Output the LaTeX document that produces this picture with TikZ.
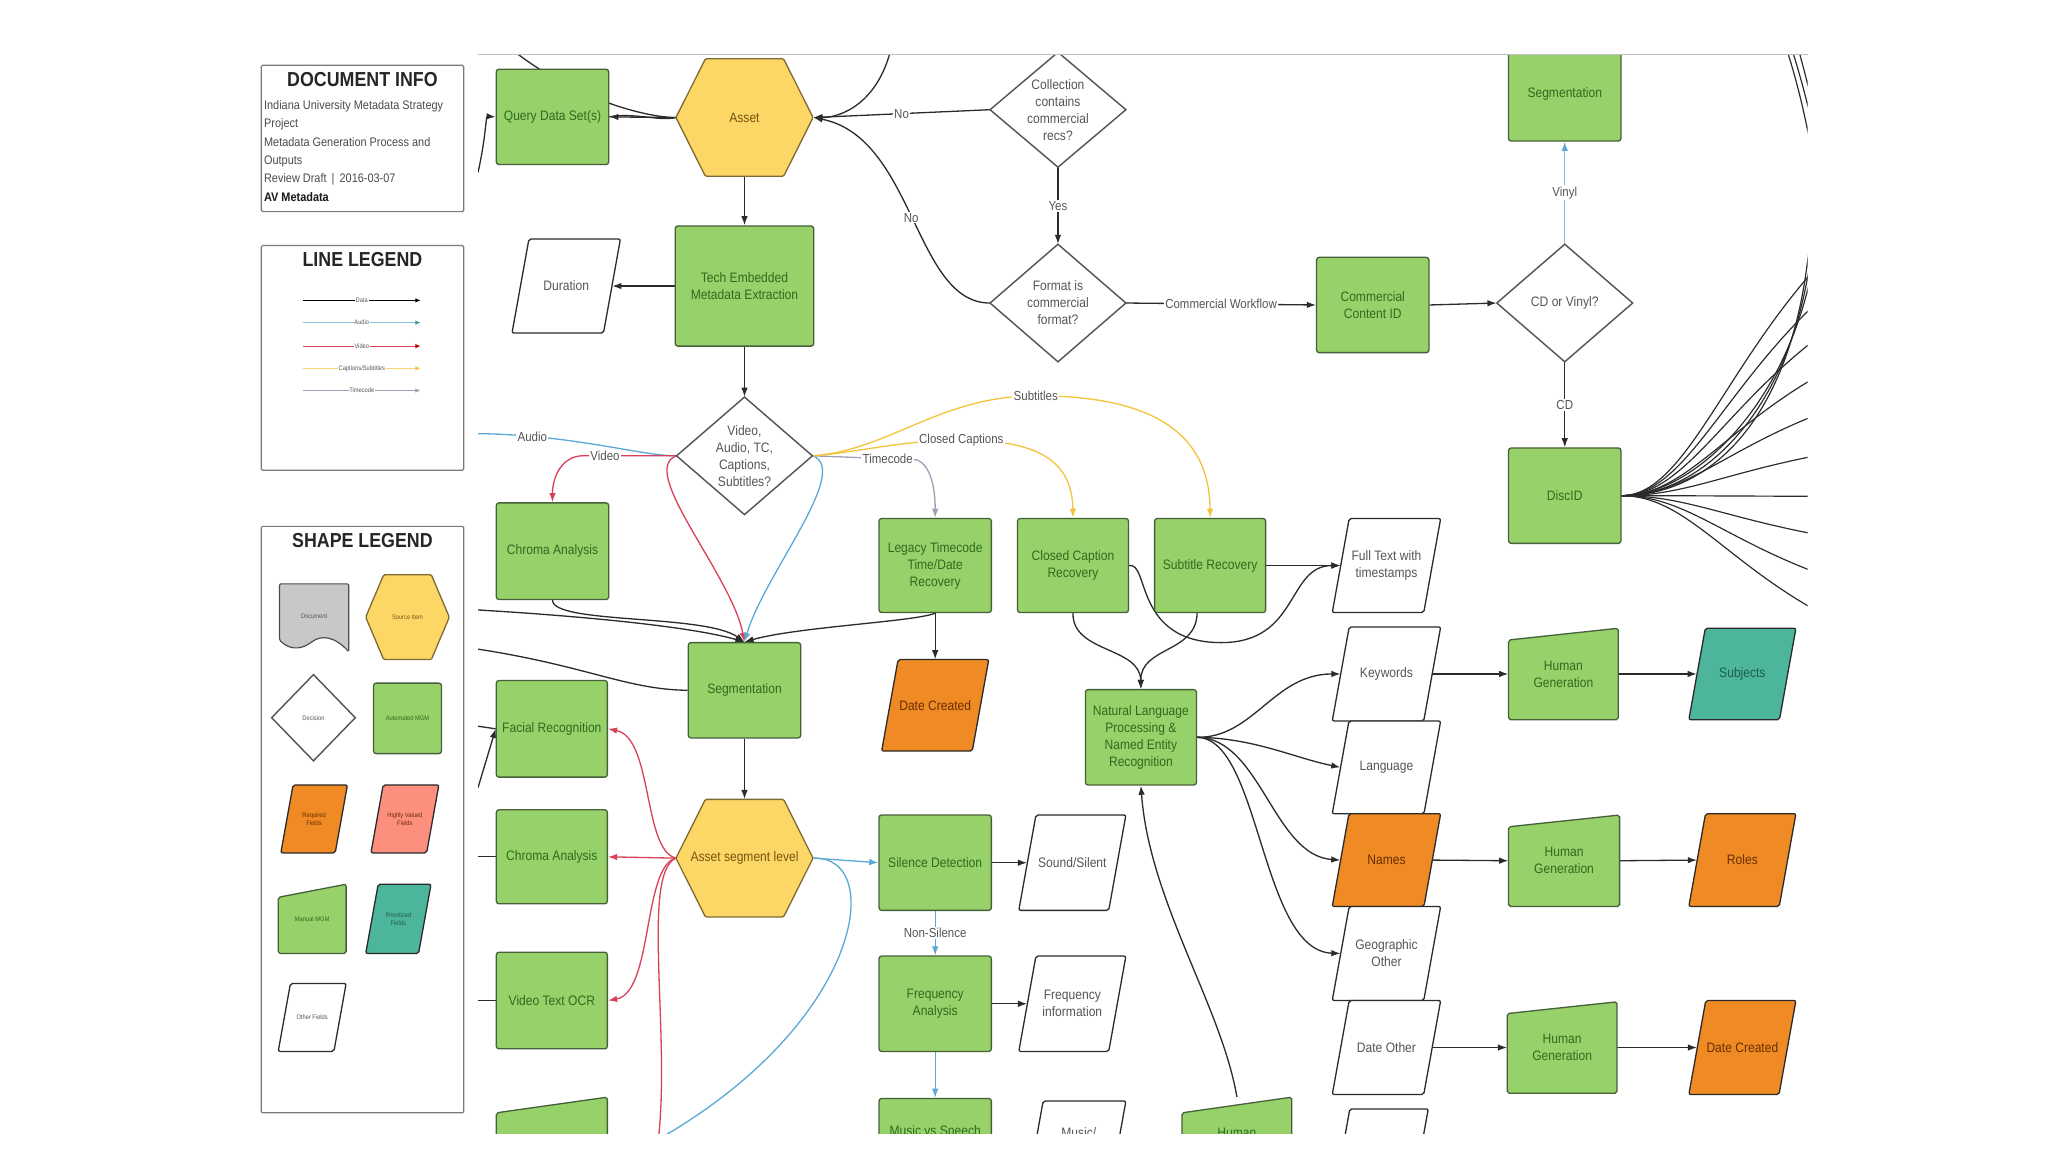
\documentclass[tikz,border=0pt]{standalone}
\usepackage{fontspec}
\setmainfont{Liberation Sans}[FakeStretch=0.88]
\usetikzlibrary{arrows.meta,calc}
\pgfdeclarelayer{bg}
\pgfsetlayers{bg,main}

\definecolor{mgmgreen}{HTML}{97D16A}
\definecolor{mgmborder}{HTML}{46603A}
\definecolor{mgmtext}{HTML}{2E6B1E}
\definecolor{srcyellow}{HTML}{FDD766}
\definecolor{srcborder}{HTML}{7E6A34}
\definecolor{srctext}{HTML}{74560F}
\definecolor{reqorange}{HTML}{EF8A24}
\definecolor{reqtext}{HTML}{6A2E00}
\definecolor{hvsalmon}{HTML}{FC8F7E}
\definecolor{priteal}{HTML}{4CB59C}
\definecolor{pritext}{HTML}{1F5D52}
\definecolor{docgrey}{HTML}{C8C8C8}
\definecolor{linegrey}{HTML}{2B2B2B}
\definecolor{audioblue}{HTML}{5AA9D6}
\definecolor{vinylblue}{HTML}{8FB8D0}
\definecolor{videored}{HTML}{D9415A}
\definecolor{capyellow}{HTML}{F3C33C}
\definecolor{tcgrey}{HTML}{A0A0B4}
\definecolor{lbltext}{HTML}{555555}
\definecolor{panelgrey}{HTML}{7A7A7A}

\newcommand\boxfont{\fontsize{10.5}{13}\selectfont}
\newcommand\legfont{\fontsize{5}{6}\selectfont}

\tikzset{
  gbox/.style={rectangle, rounded corners=2pt, draw=mgmborder, line width=1pt, fill=mgmgreen,
    text=mgmtext, align=center, minimum width=86pt, minimum height=73pt, inner sep=1pt, font=\boxfont},
  hexdraw/.style={fill=srcyellow, draw=srcborder, line width=1pt, rounded corners=1pt},
  hexnode/.style={rectangle, draw=none, fill=none, text=srctext, align=center, inner sep=0pt, font=\boxfont},
  decdraw/.style={fill=white, draw=lbltext, line width=1.1pt},
  decnode/.style={rectangle, draw=none, fill=none, inner sep=0pt, text=lbltext, align=center, font=\boxfont},
  paradraw/.style={draw=linegrey, line width=1pt, rounded corners=1.5pt},
  paranode/.style={rectangle, inner sep=0pt, align=center, font=\boxfont},
  otherf/.style={fill=white, text=lbltext},
  reqf/.style={fill=reqorange, text=reqtext},
  hvf/.style={fill=hvsalmon, text=reqtext},
  prif/.style={fill=priteal, text=pritext},
  mandraw/.style={fill=mgmgreen, draw=mgmborder, line width=1pt, rounded corners=1.5pt},
  mannode/.style={rectangle, draw=none, fill=none, inner sep=0pt, text=mgmtext, align=center, font=\boxfont},
  legtext/.style={font=\legfont},
  panel/.style={draw=panelgrey, line width=0.9pt, rounded corners=1pt},
  ptitle/.style={font=\bfseries\fontsize{15.5}{17}\selectfont, text=black!85},
  infotext/.style={anchor=base west, inner sep=0pt, font=\fontsize{9.5}{11}\selectfont, text=black!70},
  dataline/.style={draw=linegrey, line width=1pt},
  audioline/.style={draw=audioblue, line width=1pt},
  vinylline/.style={draw=vinylblue, line width=1pt},
  videoline/.style={draw=videored, line width=1pt},
  capline/.style={draw=capyellow, line width=1pt},
  tcline/.style={draw=tcgrey, line width=1pt},
  arrowtip/.style={-{Latex[length=7pt,width=5pt]}},
  elbl/.style={fill=white, inner sep=1pt, text=lbltext, font=\fontsize{10}{12}\selectfont},
  tinylbl/.style={fill=white, inner sep=0.5pt, text=lbltext, font=\fontsize{5}{6}\selectfont},
}

% name, x, y, w, h, style, text
\newcommand\hexa[7]{%
  \draw[hexdraw] ({#2-#4/2},#3) -- ({#2-#4*0.285},{#3-#5/2}) -- ({#2+#4*0.285},{#3-#5/2})
    -- ({#2+#4/2},#3) -- ({#2+#4*0.285},{#3+#5/2}) -- ({#2-#4*0.285},{#3+#5/2}) -- cycle;
  \node[hexnode,#6,minimum width=#4pt,minimum height=#5pt] (#1) at (#2,#3) {#7};}
\newcommand\decision[7]{%
  \draw[decdraw] ({#2-#4/2},#3) -- (#2,{#3-#5/2}) -- ({#2+#4/2},#3) -- (#2,{#3+#5/2}) -- cycle;
  \node[decnode,#6,minimum width=#4pt,minimum height=#5pt] (#1) at (#2,#3) {#7};}
\newcommand\para[7]{%
  \draw[paradraw,#6] ({#2-#4/2},{#3+#5/2}) -- ({#2-#4/2+0.18*#5},{#3-#5/2})
    -- ({#2+#4/2},{#3-#5/2}) -- ({#2+#4/2-0.18*#5},{#3+#5/2}) -- cycle;
  \node[paranode,#6,draw=none,fill=none,minimum width={(#4-0.18*#5)*1pt},minimum height=#5pt] (#1) at (#2,#3) {#7};}
% name, x, y, w, h, drop, style, text
\newcommand\manual[8]{%
  \draw[mandraw] ({#2-#4/2},{#3+#5/2}) -- ({#2-#4/2},{#3-#5/2+#6}) -- ({#2+#4/2},{#3-#5/2})
    -- ({#2+#4/2},{#3+#5/2}) -- cycle;
  \node[mannode,#7,minimum width=#4pt,minimum height=#5pt] (#1) at (#2,#3) {#8};}

\begin{document}
\begin{tikzpicture}[x=1pt,y=-1pt]
\useasboundingbox (0,0) rectangle (1568,882);

% ---------------- left panels ----------------
\draw[panel] (200,50) rectangle (355,162);
\node[ptitle] (ttlinfo) at (277.5,61) {DOCUMENT INFO};
\node[infotext] (inf1) at (202,84) {Indiana University Metadata Strategy};
\node[infotext] (inf2) at (202,98) {Project};
\node[infotext] (inf3) at (202,112) {Metadata Generation Process and};
\node[infotext] (inf4) at (202,126) {Outputs};
\node[infotext] (inf5) at (202,140) {Review Draft \,|\, 2016-03-07};
\node[infotext, text=black!90, font=\bfseries\fontsize{9.5}{11}\selectfont] (inf6) at (202,154) {AV Metadata};

\draw[panel] (200,188) rectangle (355,360);
\node[ptitle] (ttlline) at (277.5,199) {LINE LEGEND};
\coordinate (l1a) at (232,230); \coordinate (l1b) at (322,230);
\coordinate (l2a) at (232,247); \coordinate (l2b) at (322,247);
\coordinate (l3a) at (232,265); \coordinate (l3b) at (322,265);
\coordinate (l4a) at (232,282); \coordinate (l4b) at (322,282);
\coordinate (l5a) at (232,299); \coordinate (l5b) at (322,299);
\draw[draw=black, line width=0.8pt, -{Latex[length=4pt,width=3.5pt]}] (l1a) -- node[tinylbl]{Data} (l1b);
\draw[draw=audioblue!70, line width=0.8pt, -{Latex[length=4pt,width=3.5pt,color=teal!80]}] (l2a) -- node[tinylbl]{Audio} (l2b);
\draw[draw=videored, line width=0.8pt, -{Latex[length=4pt,width=3.5pt,color=red!70!black]}] (l3a) -- node[tinylbl]{Video} (l3b);
\draw[draw=capyellow!70, line width=0.8pt, -{Latex[length=4pt,width=3.5pt,color=capyellow]}] (l4a) -- node[tinylbl]{Captions/Subtitles} (l4b);
\draw[draw=tcgrey, line width=0.8pt, -{Latex[length=4pt,width=3.5pt]}] (l5a) -- node[tinylbl]{Timecode} (l5b);

\draw[panel] (200,403) rectangle (355,852);
\node[ptitle] (ttlshape) at (277.5,414) {SHAPE LEGEND};
\draw[fill=docgrey, draw=black!70, line width=0.9pt, rounded corners=1pt]
  (214,447) -- (267,447) -- (267,499) .. controls (256,487) and (246,486) .. (238,492)
  .. controls (229,498) and (221,497) .. (214,490) -- cycle;
\node[decnode, legtext] (lgdoc) at (240.5,472) {Document};
\hexa{lghex}{312}{472.5}{64}{65}{legtext}{Source Item}
\decision{lgdec}{240}{549.5}{64}{66}{legtext}{Decision}
\node[gbox, legtext, minimum width=52pt, minimum height=54pt] (lgauto) at (312,550) {Automated MGM};
\para{lgreq}{240.5}{627}{51}{52}{reqf,legtext}{Required\\Fields}
\para{lghv}{310}{627}{52}{52}{hvf,legtext}{Highly Valued\\Fields}
\manual{lgman}{239}{703.5}{52}{53}{10}{legtext}{Manual MGM}
\para{lgpri}{305}{703.5}{50}{53}{prif,legtext}{Prioritized\\Fields}
\para{lgoth}{239}{779}{52}{52}{otherf,legtext}{Other Fields}

% ---------------- main diagram ----------------
\draw[black!25, line width=0.8pt] (366,42) -- (1384,42);
\begin{scope}
\clip (366,42.5) rectangle (1384,868);

\node[gbox] (query) at (423,89.5) {Query Data Set(s)};
\hexa{asset}{570}{90}{105}{90}{}{Asset}
\decision{coll}{810}{84}{104}{88}{}{Collection\\contains\\commercial\\recs?}
\node[gbox, minimum height=72pt] (segtop) at (1198,72) {Segmentation};
\node[gbox, minimum width=106pt, minimum height=92pt] (tech) at (570,219) {Tech Embedded\\Metadata Extraction};
\para{duration}{433.5}{219}{83}{72}{otherf}{Duration}
\decision{format}{810}{232}{104}{90}{}{Format is\\commercial\\format?}
\node[gbox] (ccid) at (1051,233.5) {Commercial\\Content ID};
\decision{cdv}{1198}{232}{104}{90}{}{CD or Vinyl?}
\node[gbox] (discid) at (1198,379.5) {DiscID};
\decision{vdiam}{570}{349}{104}{90}{}{Video,\\Audio, TC,\\Captions,\\Subtitles?}
\node[gbox, minimum height=74pt] (chroma1) at (423,422) {Chroma Analysis};
\node[gbox, minimum height=72pt] (legacy) at (716,433) {Legacy Timecode\\Time/Date\\Recovery};
\node[gbox, minimum width=85pt, minimum height=72pt] (ccr) at (821.5,433) {Closed Caption\\Recovery};
\node[gbox, minimum width=85pt, minimum height=72pt] (subrec) at (926.5,433) {Subtitle Recovery};
\para{fulltext}{1061.5}{433}{83}{72}{otherf}{Full Text with\\timestamps}
\node[gbox] (seg2) at (570,528.5) {Segmentation};
\para{dcone}{716}{540}{82}{70}{reqf}{Date Created}
\node[gbox, minimum width=85pt] (nlp) at (873.5,564.5) {Natural Language\\Processing \&\\Named Entity\\Recognition};
\para{keywords}{1061.5}{516}{83}{72}{otherf}{Keywords}
\para{language}{1061.5}{587.5}{83}{71}{otherf}{Language}
\para{names}{1061.5}{658.5}{83}{71}{reqf}{Names}
\para{geo}{1061.5}{730}{83}{72}{otherf}{Geographic\\Other}
\para{dateother}{1061.5}{802}{83}{72}{otherf}{Date Other}
\para{botpara}{1057}{885}{73}{72}{otherf}{}
\manual{hgone}{1197}{516}{84}{70}{9}{}{Human\\Generation}
\para{subjects}{1334}{516}{82}{70}{prif}{Subjects}
\manual{hgtwo}{1197.5}{659}{85}{70}{9}{}{Human\\Generation}
\para{roles}{1334}{658.5}{82}{71}{reqf}{Roles}
\manual{hgthree}{1196}{802}{84}{70}{9}{}{Human\\Generation}
\para{dctwo}{1334}{802}{82}{72}{reqf}{Date Created}
\node[gbox, minimum width=85pt, minimum height=74pt] (facial) at (422.5,558) {Facial Recognition};
\node[gbox, minimum width=85pt, minimum height=72pt] (chroma2) at (422.5,656) {Chroma Analysis};
\node[gbox, minimum width=85pt, minimum height=74pt] (ocr) at (422.5,766) {Video Text OCR};
\manual{botman}{422.5}{880}{85}{80}{12}{}{}
\hexa{asl}{570}{657}{105}{90}{}{Asset segment level}
\node[gbox] (silence) at (716,660.5) {Silence Detection};
\para{soundsilent}{821}{660.5}{82}{73}{otherf}{Sound/Silent}
\node[gbox] (freq) at (716,768.5) {Frequency\\Analysis};
\para{freqinfo}{821}{768.5}{82}{73}{otherf}{Frequency\\information}
\node[gbox, minimum height=52pt] (music) at (716,867) {Music vs Speech};
\para{musicpara}{826}{867}{72}{48}{otherf}{Music/}
\manual{human}{947}{867}{84}{54}{12}{}{Human}
\end{scope}

% ---------------- connectors ----------------
\begin{pgfonlayer}{bg}
\fill[white] (0,0) rectangle (1568,882);
\begin{scope}
\clip (366,42.5) rectangle (1384,868);
% query / asset
\draw[dataline,arrowtip] (asset.west) -- (query.east);
\draw[dataline] (asset.west) .. controls (495,90) and (440,76) .. (392,38);
\draw[dataline] (asset.west) .. controls (505,93) and (485,86) .. (query.east);
\draw[dataline,arrowtip] (366,132) .. controls (372,105) and (372,89) .. (query.west);
\draw[dataline,arrowtip] (682,38) .. controls (672,78) and (645,90) .. (asset.east);
\draw[dataline,arrowtip] (coll.west) -- node[elbl]{No} (asset.east);
\draw[dataline,arrowtip] (format.west) .. controls (700,232) and (700,105) .. (asset.east) node[elbl,pos=0.5]{No};
\draw[dataline,arrowtip] (coll.south) -- node[elbl]{Yes} (format.north);
\draw[dataline,arrowtip] (asset.south) -- (tech.north);
\draw[dataline,arrowtip] (tech.west) -- (duration.east);
\draw[dataline,arrowtip] (format.east) -- node[elbl]{Commercial Workflow} (ccid.west);
\draw[dataline,arrowtip] (ccid.east) -- (cdv.west);
\draw[vinylline,-{Latex[length=7pt,width=5pt,color=audioblue]}] (cdv.north) -- node[elbl]{Vinyl} (segtop.south);
\draw[dataline,arrowtip] (cdv.south) -- node[elbl]{CD} (discid.north);
\draw[dataline,arrowtip] (tech.south) -- (vdiam.north);

% DiscID fan
\foreach \ey in {200,228,256,286,316,348,380,410,440,470}
  \draw[dataline, line width=0.9pt] (discid.east) .. controls (1290,379.5) and (1320,{379.5+(\ey-379.5)*0.55}) .. (1395,\ey);
\draw[dataline, line width=0.9pt] (discid.east) .. controls (1300,379.5) and (1380,300) .. (1392,175);
\draw[dataline, line width=0.9pt] (discid.east) .. controls (1305,379.5) and (1376,310) .. (1388,182);
\draw[dataline, line width=0.9pt] (discid.east) .. controls (1310,379.5) and (1372,320) .. (1385,190);
\draw[dataline, line width=0.9pt] (1385,105) .. controls (1380,80) and (1375,60) .. (1368,38);
\draw[dataline, line width=0.9pt] (1390,105) .. controls (1384,80) and (1379,60) .. (1372,38);
\draw[dataline, line width=0.9pt] (1395,110) .. controls (1388,80) and (1383,60) .. (1377,38);

% from the media-type decision
\draw[audioline] (vdiam.west) .. controls (490,349) and (440,333) .. (366,332) node[elbl,pos=0.8]{Audio};
\draw[videoline,arrowtip] (vdiam.west) -- (445,349) node[elbl,pos=0.75]{Video} .. controls (430,350) and (423,365) .. (chroma1.north);
\draw[videoline,arrowtip] (vdiam.west) .. controls (488,360) and (560,440) .. (seg2.north);
\draw[audioline,arrowtip] (vdiam.east) .. controls (652,360) and (585,440) .. (seg2.north);
\draw[tcline,arrowtip] (vdiam.east) -- (702,352) node[elbl,pos=0.72]{Timecode} .. controls (712,356) and (716,372) .. (legacy.north);
\draw[capline,arrowtip] (vdiam.east) .. controls (660,346) and (690,337) .. (736,337) node[elbl]{Closed Captions}
  .. controls (790,337) and (821,350) .. (ccr.north);
\draw[capline,arrowtip] (vdiam.east) .. controls (680,345) and (720,303) .. (793,303) node[elbl]{Subtitles}
  .. controls (880,303) and (926,330) .. (subrec.north);

% into segmentation
\draw[dataline,arrowtip] (chroma1.south) .. controls (423,478) and (540,470) .. (seg2.north);
\draw[dataline,arrowtip] (366,467) .. controls (450,472) and (530,480) .. (seg2.north);
\draw[dataline] (366,497) .. controls (450,510) and (480,528) .. (seg2.west);
\draw[dataline,arrowtip] (legacy.south) .. controls (700,476) and (610,480) .. (seg2.north);
\draw[dataline,arrowtip] (legacy.south) -- (dcone.north);
\draw[dataline,arrowtip] (seg2.south) -- (asl.north);

% asset segment level
\draw[videoline,arrowtip] (asl.west) .. controls (492,650) and (500,565) .. (facial.east);
\draw[videoline,arrowtip] (asl.west) -- (chroma2.east);
\draw[videoline,arrowtip] (asl.west) .. controls (492,664) and (500,760) .. (ocr.east);
\draw[videoline] (asl.west) .. controls (490,670) and (515,800) .. (503,880);
\draw[audioline,arrowtip] (asl.east) -- (silence.west);
\draw[audioline] (asl.east) .. controls (680,655) and (660,790) .. (490,880);

% left edge
\draw[dataline,arrowtip] (366,603) -- (facial.west);
\draw[dataline] (366,556) -- (facial.west);
\draw[dataline] (366,656) -- (chroma2.west);
\draw[dataline] (366,766) -- (ocr.west);

% audio chain
\draw[dataline,arrowtip] (silence.east) -- (soundsilent.west);
\draw[audioline,arrowtip] (silence.south) -- node[elbl]{Non-Silence} (freq.north);
\draw[dataline,arrowtip] (freq.east) -- (freqinfo.west);
\draw[audioline,arrowtip] (freq.south) -- (music.north);

% captions / subtitles
\draw[dataline,arrowtip] (ccr.south) .. controls (821,500) and (873,495) .. (nlp.north);
\draw[dataline,arrowtip] ([xshift=-10pt]subrec.south) .. controls (916,500) and (873,495) .. (nlp.north);
\draw[dataline,arrowtip] (ccr.east) .. controls (880,430) and (868,492) .. (935,492)
  .. controls (995,492) and (985,433) .. (fulltext.west);
\draw[dataline,arrowtip] (subrec.east) -- (fulltext.west);

% NLP outputs
\draw[dataline,arrowtip] (nlp.east) .. controls (960,565) and (975,516) .. (keywords.west);
\draw[dataline,arrowtip] (nlp.east) .. controls (960,565) and (990,580) .. (language.west);
\draw[dataline,arrowtip] (nlp.east) .. controls (965,565) and (975,655) .. (names.west);
\draw[dataline,arrowtip] (nlp.east) .. controls (965,565) and (965,728) .. (geo.west);
\draw[dataline,arrowtip] (human.north) .. controls (935,770) and (880,690) .. (nlp.south);

% rows
\draw[dataline,arrowtip] (keywords.east) -- (hgone.west);
\draw[dataline,arrowtip] (hgone.east) -- (subjects.west);
\draw[dataline,arrowtip] (names.east) -- (hgtwo.west);
\draw[dataline,arrowtip] (hgtwo.east) -- (roles.west);
\draw[dataline,arrowtip] (dateother.east) -- (hgthree.west);
\draw[dataline,arrowtip] (hgthree.east) -- (dctwo.west);
\end{scope}
\end{pgfonlayer}
\end{tikzpicture}
\end{document}
